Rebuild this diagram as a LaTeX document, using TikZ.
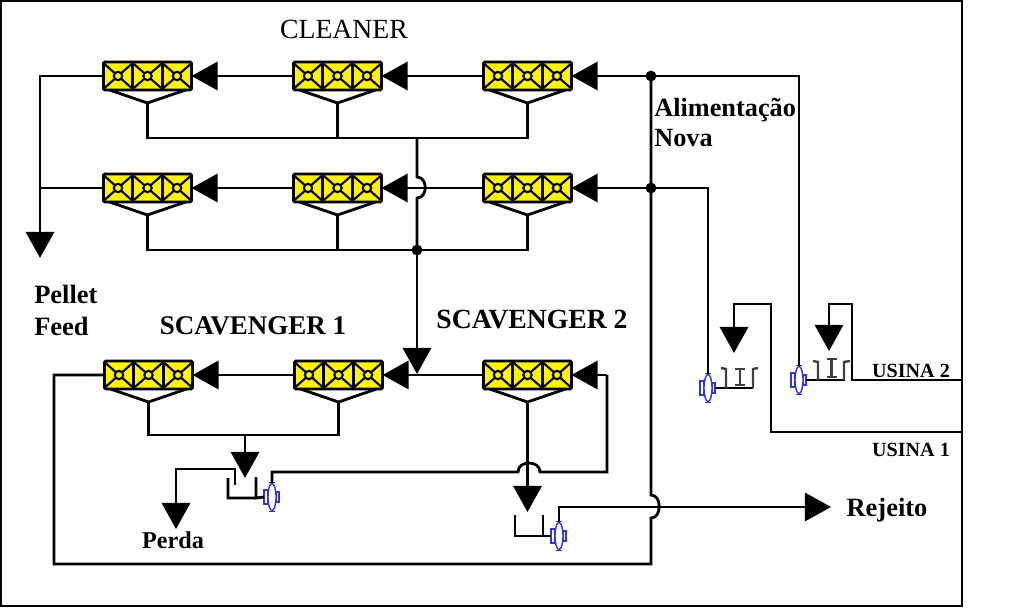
\documentclass[tikz,border=0pt]{standalone}
\usepackage{fontspec}
\setmainfont{Liberation Serif}
\usetikzlibrary{arrows.meta,shapes.geometric}

\definecolor{cellyellow}{RGB}{255,245,0}
\definecolor{pumpblue}{RGB}{50,50,235}

\tikzset{
    pipe/.style={line width=2pt},
    flow/.style={pipe,-{Triangle[length=18.5pt,width=20pt]}},
    bankbox/.style={rectangle,draw,fill=cellyellow,line width=2pt,rounded corners=1pt,
        minimum width=2.2cm,minimum height=0.7cm,inner sep=0pt,outer sep=0pt},
    cellline/.style={line width=1.5pt},
    pumpbody/.style={ellipse,draw=pumpblue,fill=white,line width=1pt,
        minimum width=0.2cm,minimum height=0.68cm,inner sep=0pt,outer sep=0pt},
    pumpline/.style={draw=pumpblue,line width=1.1pt},
    beam/.style={draw=black!75,line width=1.7pt},
    dotnode/.style={circle,fill,inner sep=0pt,minimum size=0.27cm},
    boldlabel/.style={font=\bfseries\fontsize{19.2}{23}\selectfont,inner sep=0pt},
    smalllabel/.style={font=\bfseries\fontsize{14.3}{16}\selectfont,inner sep=0pt}
}

% flotation bank: three cells and the hopper under them
\newcommand{\bank}[3]{
    \node[bankbox] (#1) at (#2,#3) {};
    \foreach \k in {-29.5,0,29.5} {
        \draw[cellline] (#2+\k-14.7,#3-13) -- (#2+\k+14.7,#3+13) (#2+\k-14.7,#3+13) -- (#2+\k+14.7,#3-13);
        \draw[cellline,fill=cellyellow] (#2+\k,#3) circle (0.105cm);
    }
    \draw[pipe] (#2-14.75,#3-14) -- (#2-14.75,#3+14) (#2+14.75,#3-14) -- (#2+14.75,#3+14);
    \coordinate (#1-tail) at (#2,#3+27);
    \draw[pipe] (#2-38,#3+14) -- (#1-tail) -- (#2+38,#3+14);
}

% pump with its two side wings
\newcommand{\pump}[3]{
    \draw[pumpline] (#2-8,#3-7) rectangle (#2-4,#3+7) (#2+4,#3-5) rectangle (#2+7,#3+5);
    \draw[pumpline] (#2-3,#3-14.5) -- (#2+3,#3-14.5) (#2-3,#3+14.5) -- (#2+3,#3+14.5);
    \node[pumpbody] (#1) at (#2,#3) {};
    \coordinate (#1-r) at (#2+7,#3);
    \coordinate (#1-l) at (#2-8,#3);
}

\begin{document}
\begin{tikzpicture}[x=0.025cm,y=-0.025cm]
    \useasboundingbox (0,0) rectangle (1024,609);
    \draw[pipe] (1,1) rectangle (962,606);

    % Banks
    \bank{c11}{147.5}{76}
    \bank{c12}{337.5}{76}
    \bank{c13}{527.5}{76}
    \bank{c21}{147.5}{188}
    \bank{c22}{337.5}{188}
    \bank{c23}{527.5}{188}
    \bank{s11}{148.5}{375}
    \bank{s12}{338.5}{375}
    \bank{s13}{527.5}{375}

    % Pumps
    \pump{usina1}{708}{388}
    \pump{usina2}{799}{380}
    \pump{perda}{272}{497}
    \pump{rejeito}{559}{536}

    % Junction points
    \coordinate (busa) at (417,138);
    \coordinate (busb) at (417,250);
    \coordinate (busc) at (245,435);
    \coordinate (pellet) at (40,258);
    \coordinate (feeda) at (651,76);
    \coordinate (feedb) at (651,188);
    \coordinate (return) at (54,564);
    \coordinate (scavin) at (417,374);
    \coordinate (right1) at (961,432);
    \coordinate (right2) at (961,380);

    % Cleaner rows
    \draw[flow] (c12.west) -- (c11.east);
    \draw[flow] (c13.west) -- (c12.east);
    \draw[flow] (c22.west) -- (c21.east);
    \draw[flow] (c23.west) -- (c22.east);
    \draw[flow] (c11.west) -| (pellet);
    \draw[pipe] (c21.west) -- (c21.west -| pellet);
    \draw[pipe] (c11-tail) |- (busa) -| (c13-tail);
    \draw[pipe] (c12-tail) -- (c12-tail |- busa);
    \draw[pipe] (c21-tail) |- (busb) -| (c23-tail);
    \draw[pipe] (c22-tail) -- (c22-tail |- busb);
    \draw[pipe] (busa) -- (417,177) .. controls (428,177) and (428,198) .. (417,198) -- (busb);
    \draw[flow] (busb) -- (scavin);
    \node[dotnode] (dotb) at (busb) {};

    % Scavenger rows
    \draw[flow] (s12.west) -- (s11.east);
    \draw[flow] (s13.west) -- (s12.east);
    \draw[pipe] (s11-tail) |- (busc) -| (s12-tail);

    % Feed lines
    \draw[flow] (usina2.north) |- (c13.east);
    \draw[flow] (usina1.north) |- (c23.east);
    \node[dotnode] (dotfa) at (feeda) {};
    \node[dotnode] (dotfb) at (feedb) {};
    \draw[pipe] (feeda) -- (651,495) .. controls (662,495) and (662,518) .. (651,518) -- (651,564) -- (return) |- (s11.west);

    % Usina 1
    \draw[pipe] (usina1-r) -- (753,388);
    \draw[beam] (721,368) -- (726,369) -- (726,388) (753,388) -- (753,369) -- (758,368);
    \draw[beam] (735,369) -- (745,369) (740,369) -- (740,385) (735,385) -- (745,385);
    \draw[flow] (right1) -| (771,304) -| (734,353);

    % Usina 2
    \draw[pipe] (usina2-r) -- (845,380);
    \draw[beam] (813,361) -- (818,362) -- (818,380) (844,380) -- (844,362) -- (850,361);
    \draw[beam] (827,359) -- (837,359) (831.5,359) -- (831.5,377) (827,377) -- (837,377);
    \draw[flow] (right2) -| (852,304) -| (829,351);

    % Scavenger 1 tail
    \draw[flow] (busc) -- (245,478);
    \draw[pipe] (256,477) -- (256,498) -- (perda-l) (228,478) -- (228,498) -- (256,498);
    \draw[flow] (235,485) |- (176,469) -- (176,529);
    \draw[pipe] (perda.north) |- (518,472) .. controls (518,460) and (540,460) .. (540,472) -| (607,375);
    \draw[flow] (607,375) -- (s13.east);

    % Scavenger 2 tail
    \draw[flow] (s13-tail) -- (527.5,512);
    \draw[pipe] (515,515) -- (515,536) -- (rejeito-l) (543,515) -- (543,536);
    \draw[flow] (rejeito.north) |- (831,507);

    % Labels
    \node[inner sep=0pt,font=\fontsize{19.7}{23}\selectfont] (cleaner) at (344,29) {CLEANER};
    \node[boldlabel] (scav1) at (253,326) {SCAVENGER 1};
    \node[boldlabel,font=\bfseries\fontsize{19.7}{23}\selectfont] (scav2) at (532,320) {SCAVENGER 2};
    \node[boldlabel,anchor=west,align=left,font=\bfseries\fontsize{18.8}{23.4}\selectfont] (pelletfeed) at (34,310.5) {Pellet\\Feed};
    \node[boldlabel,anchor=west,align=left,font=\bfseries\fontsize{18.7}{21.3}\selectfont] (nova) at (654,122) {Alimentação\\Nova};
    \node[smalllabel] (us2) at (911,371) {USINA 2};
    \node[smalllabel] (us1) at (911,450) {USINA 1};
    \node[boldlabel,font=\bfseries\fontsize{18.8}{23}\selectfont] (rej) at (887,510) {Rejeito};
    \node[boldlabel,font=\bfseries\fontsize{17.2}{20}\selectfont] (per) at (173,540) {Perda};
\end{tikzpicture}
\end{document}
